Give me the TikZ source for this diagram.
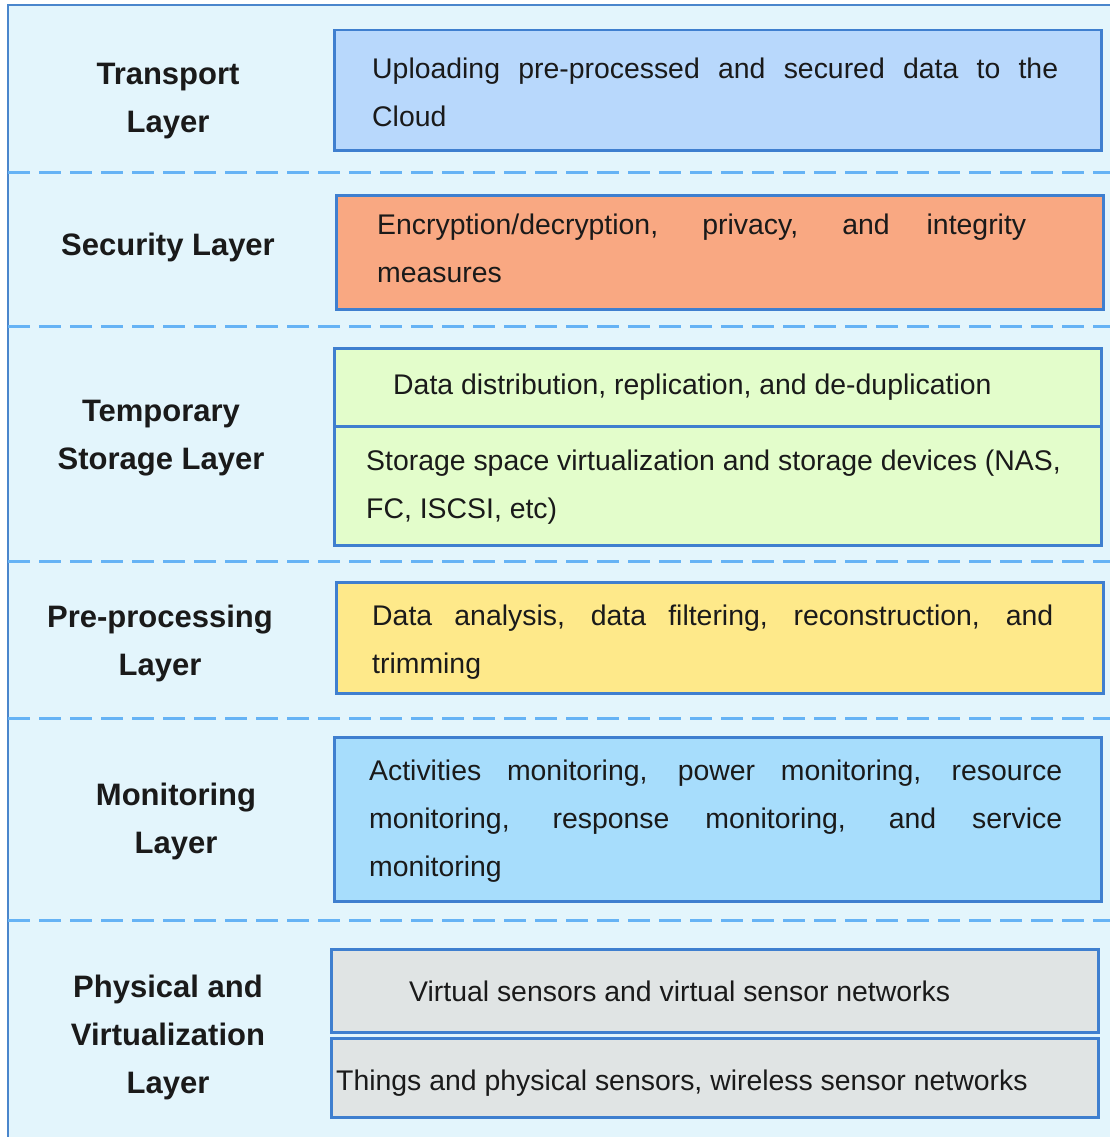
\documentclass[tikz,border=0pt]{standalone}
\usepackage{fontspec}
\setmainfont{Liberation Sans}
\definecolor{bgblue}{HTML}{E3F5FC}
\definecolor{frameblue}{HTML}{4A86CC}
\definecolor{dashblue}{HTML}{66B3F5}
\definecolor{boxline}{HTML}{3F7FCF}
\definecolor{cTrans}{HTML}{B8D8FC}
\definecolor{cSec}{HTML}{F9A882}
\definecolor{cStor}{HTML}{E3FDCB}
\definecolor{cPre}{HTML}{FEE98A}
\definecolor{cMon}{HTML}{A7DDFC}
\definecolor{cPhys}{HTML}{E0E4E4}
\definecolor{ink}{HTML}{1A1A1A}
\newcommand{\jline}[2]{\makebox[#1][s]{#2}}
\begin{document}
\begin{tikzpicture}[x=1pt,y=-1pt,
  layerbox/.style={draw=boxline, line width=2.5pt, rectangle, anchor=north west, inner sep=0pt},
  bodytxt/.style={anchor=west, inner sep=0pt, align=left, text=ink,
     font=\fontsize{28.4}{48}\selectfont},
  labeltxt/.style={inner sep=0pt, align=center, text=ink,
     font=\fontsize{31}{48}\selectfont\bfseries},
  sep/.style={draw=dashblue, line width=3pt, dash pattern=on 22pt off 9pt}]
\useasboundingbox (0,0) rectangle (1110,1137);
\clip (0,0) rectangle (1110,1137);
% outer frame
\draw[fill=bgblue, draw=frameblue, line width=2.5pt] (8,5) rectangle (1130,1160);
% separators
\coordinate (s1a) at (8,172);  \coordinate (s1b) at (1110,172);
\coordinate (s2a) at (8,326);  \coordinate (s2b) at (1110,326);
\coordinate (s3a) at (8,561);  \coordinate (s3b) at (1110,561);
\coordinate (s4a) at (8,718);  \coordinate (s4b) at (1110,718);
\coordinate (s5a) at (8,920);  \coordinate (s5b) at (1110,920);
\draw[sep] (s1a) -- (s1b);
\draw[sep] (s2a) -- (s2b);
\draw[sep] (s3a) -- (s3b);
\draw[sep] (s4a) -- (s4b);
\draw[sep] (s5a) -- (s5b);

% left labels
\node[labeltxt] (lTrans) at (168,101) {Transport\\Layer};
\node[labeltxt] (lSec) at (168,247) {Security Layer};
\node[labeltxt] (lStor) at (161,438) {Temporary\\Storage Layer};
\node[labeltxt] (lPre) at (160,643) {Pre-processing\\Layer};
\node[labeltxt] (lMon) at (176,821) {Monitoring\\Layer};
\node[labeltxt] (lPhys) at (168,1037) {Physical and\\Virtualization\\Layer};

% Transport
\node[layerbox, fill=cTrans, minimum width=767pt, minimum height=120pt] (bTrans) at (333,29) {};
\node[bodytxt] (tTrans) at ([xshift=39pt,yshift=-2pt]bTrans.west)
  {\jline{686pt}{Uploading pre-processed and secured data to the}\\Cloud};

% Security
\node[layerbox, fill=cSec, minimum width=767pt, minimum height=114pt] (bSec) at (335,194) {};
\node[bodytxt] (tSec) at ([xshift=42pt,yshift=4pt]bSec.west)
  {\jline{649pt}{Encryption/decryption, privacy, and integrity}\\measures};

% Temporary storage
\node[layerbox, fill=cStor, minimum width=767pt, minimum height=78pt] (bStorA) at (333,347) {};
\node[layerbox, fill=cStor, minimum width=767pt, minimum height=119pt] (bStorB) at (333,425) {};
\node[bodytxt] (tStorA) at ([xshift=60pt]bStorA.west)
  {Data distribution, replication, and de-duplication};
\node[bodytxt] (tStorB) at ([xshift=33pt,yshift=-1pt]bStorB.west)
  {Storage space virtualization and storage devices (NAS,\\FC, ISCSI, etc)};

% Pre-processing
\node[layerbox, fill=cPre, minimum width=767pt, minimum height=111pt] (bPre) at (335,581) {};
\node[bodytxt] (tPre) at ([xshift=37pt,yshift=-4pt]bPre.west)
  {\jline{681pt}{Data analysis, data filtering, reconstruction, and}\\trimming};

% Monitoring
\node[layerbox, fill=cMon, minimum width=767pt, minimum height=164pt] (bMon) at (333,736) {};
\node[bodytxt] (tMon) at ([xshift=36pt,yshift=-2pt]bMon.west)
  {\jline{693pt}{Activities monitoring, power monitoring, resource}\\
   \jline{693pt}{monitoring, response monitoring, and service}\\monitoring};

% Physical and virtualization
\node[layerbox, fill=cPhys, minimum width=767pt, minimum height=83pt] (bPhysA) at (330,948) {};
\node[layerbox, fill=cPhys, minimum width=767pt, minimum height=79pt] (bPhysB) at (330,1037) {};
\node[bodytxt] (tPhysA) at ([xshift=79pt,yshift=-1pt]bPhysA.west)
  {Virtual sensors and virtual sensor networks};
\node[bodytxt] (tPhysB) at ([xshift=6pt,yshift=-5pt]bPhysB.west)
  {Things and physical sensors, wireless sensor networks};
\end{tikzpicture}
\end{document}
